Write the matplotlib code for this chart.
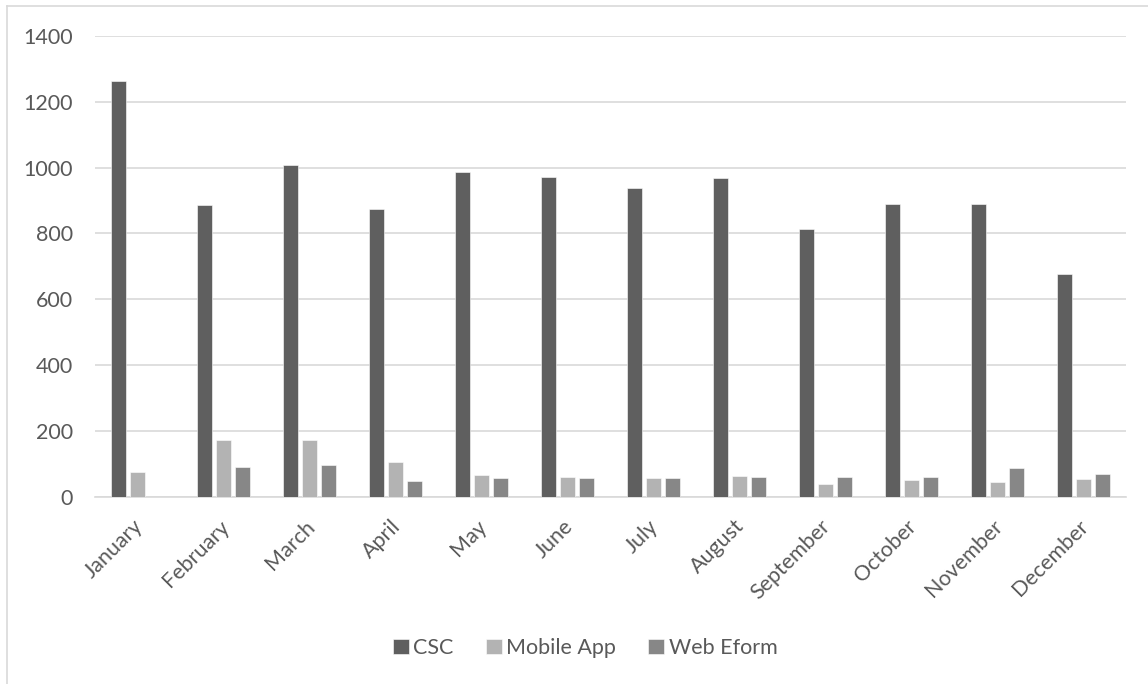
import numpy as np
import matplotlib.pyplot as plt
import matplotlib.transforms as mtransforms
from matplotlib.lines import Line2D

#---- Data --------------------------------------------------------------------#

months = ['January', 'February', 'March', 'April', 'May', 'June', 'July',
          'August', 'September', 'October', 'November', 'December']
csc = [1264, 886, 1008, 873, 986, 971, 937, 969, 813, 888, 890, 678]
mobile_app = [76, 172, 171, 104, 66, 60, 56, 64, 39, 51, 46, 53]
web_eform = [0, 91, 96, 48, 58, 58, 57, 59, 61, 60, 86, 69]

series = [('CSC', csc, '#5f5f5f'),
          ('Mobile App', mobile_app, '#b3b3b3'),
          ('Web Eform', web_eform, '#878787')]

#---- Plotting ----------------------------------------------------------------#

plt.rcParams['font.family'] = ['Lato', 'DejaVu Sans']
text_col = '#595959'
grid_col = '#d9d9d9'
fs = 15.5

W, H = 1148, 684
fig = plt.figure(figsize=(W / 100, H / 100), dpi=100)
ax = fig.add_axes([95 / W, 1 - 496.7 / H, (1126 - 95) / W, (496.7 - 36) / H])

x = np.arange(len(months))
width = 0.175
step = 0.221
for i, (name, vals, col) in enumerate(series):
    ax.bar(x + (i - 1) * step, vals, width, color=col, label=name,
           edgecolor='white', linewidth=0.4, zorder=3)

ax.set_xlim(-0.5, len(months) - 0.5)
ax.set_ylim(0, 1400)
ax.set_yticks(range(0, 1401, 200))
ax.yaxis.grid(True, color=grid_col, linewidth=1.2, zorder=0)
for s in ['top', 'right', 'left']:
    ax.spines[s].set_visible(False)
ax.spines['bottom'].set_color(grid_col)
ax.spines['bottom'].set_linewidth(1.2)
ax.tick_params(axis='both', length=0, labelsize=fs, labelcolor=text_col)
ax.tick_params(axis='y', pad=16)
ax.tick_params(axis='x', pad=14)
ax.set_xticks(x)
ax.set_xticklabels(months, rotation=45, ha='right', rotation_mode='anchor')

# nudge the slanted month labels a little to the left
shift = mtransforms.ScaledTranslation(-5 / 100, 0, fig.dpi_scale_trans)
for lbl in ax.get_xticklabels():
    lbl.set_transform(lbl.get_transform() + shift)

fig.legend(loc='center', bbox_to_anchor=(585 / W, 1 - 648 / H), ncol=3,
           frameon=False, fontsize=fs, labelcolor=text_col,
           handlelength=0.75, handleheight=0.75, handletextpad=0.2,
           columnspacing=1.5)

# light chart-area frame along the top and left edges
fig.add_artist(Line2D([7 / W, 1], [1 - 6 / H, 1 - 6 / H], color=grid_col, lw=1.2))
fig.add_artist(Line2D([7 / W, 7 / W], [0, 1 - 6 / H], color=grid_col, lw=1.2))

plt.savefig('out.png', dpi=100)
